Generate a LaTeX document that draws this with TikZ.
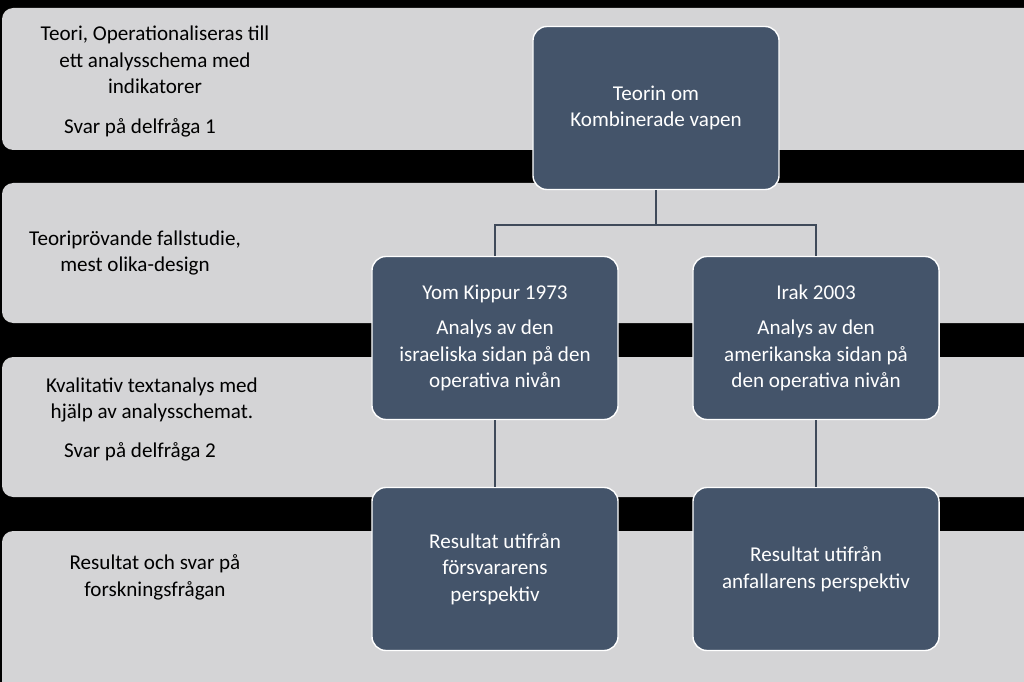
\documentclass[tikz,border=0pt]{standalone}
\usepackage{fontspec}
\setmainfont{Carlito}
\usetikzlibrary{positioning}
\definecolor{bandgray}{HTML}{D4D4D6}
\definecolor{boxblue}{HTML}{44546A}
\definecolor{linegray}{HTML}{3F4A5A}
\tikzset{
  band/.style={fill=bandgray, rounded corners=8pt},
  stepbox/.style={draw=white, line width=1pt, fill=boxblue, rounded corners=10pt,
    minimum width=6.15cm, minimum height=4.075cm, text=white, align=center,
    font=\fontsize{15}{19}\selectfont},
  leftlabel/.style={align=center, font=\fontsize{15}{19}\selectfont},
  link/.style={draw=linegray, line width=1pt}
}
\begin{document}
\begin{tikzpicture}[x=0.025cm, y=-0.025cm]
    \fill[black] (0,0) rectangle (1024,682);
    \useasboundingbox (0,0) rectangle (1024,682);
    % bands
    \fill[band] (2,8) rectangle (1040,150);
    \fill[band] (2,183) rectangle (1040,323);
    \fill[band] (2,357) rectangle (1040,497);
    \fill[band] (2,531) rectangle (1040,700);
    % left labels
    \node[leftlabel] (l1) at (155,60) {Teori, Operationaliseras till\\ett analysschema med\\indikatorer};
    \node[leftlabel] (s1) at (140,128) {Svar på delfråga 1};
    \node[leftlabel] (l2) at (135,253) {Teoriprövande fallstudie,\\mest olika-design};
    \node[leftlabel] (l3) at (152,400) {Kvalitativ textanalys med\\hjälp av analysschemat.};
    \node[leftlabel] (s2) at (140,452) {Svar på delfråga 2};
    \node[leftlabel] (l4) at (155,577) {Resultat och svar på\\forskningsfrågan};
    % boxes
    \node[stepbox] (teori) at (656,108) {Teorin om\\Kombinerade vapen};
    \node[stepbox] (yom)   at (495,338) {Yom Kippur 1973\\[6pt]Analys av den\\israeliska sidan på den\\operativa nivån};
    \node[stepbox] (irak)  at (816,338) {Irak 2003\\[6pt]Analys av den\\amerikanska sidan på\\den operativa nivån};
    \node[stepbox] (res1)  at (495,569) {Resultat utifrån\\försvararens\\perspektiv};
    \node[stepbox] (res2)  at (816,569) {Resultat utifrån\\anfallarens perspektiv};
    % links
    \coordinate (fork) at (656,225);
    \draw[link] (teori.south) -- (fork);
    \draw[link] (fork) -| (yom.north);
    \draw[link] (fork) -| (irak.north);
    \draw[link] (yom) -- (res1);
    \draw[link] (irak) -- (res2);
\end{tikzpicture}
\end{document}
